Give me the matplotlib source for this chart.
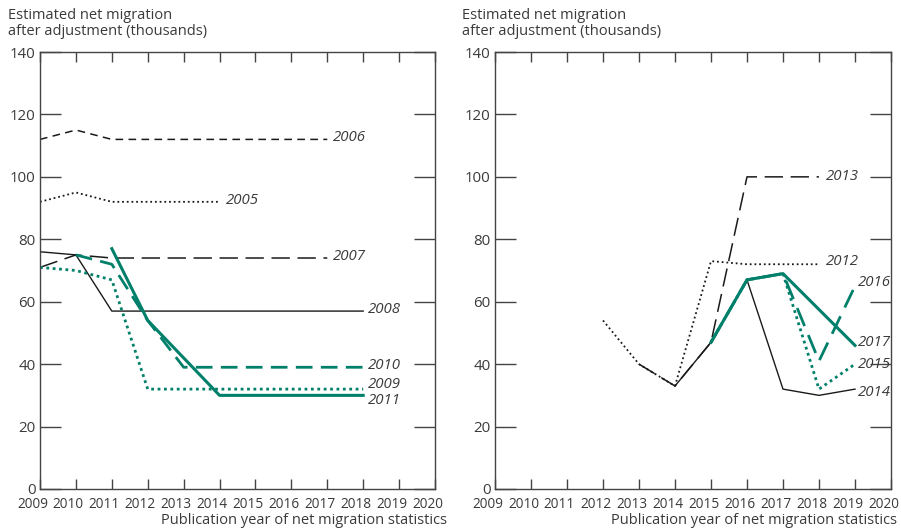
import matplotlib.pyplot as plt
import matplotlib.transforms as mtransforms

plt.rcParams['font.family'] = ['Open Sans', 'DejaVu Sans']

GREEN = '#00806a'
BLACK = '#1a1a1a'
TXT = '#3a3a3a'

years = list(range(2009, 2021))

# left panel: forecasts made in 2005-2011
x2005 = [2009, 2010, 2011, 2012, 2013, 2014]
y2005 = [92, 95, 92, 92, 92, 92]
x2006 = [2009, 2010, 2011, 2012, 2013, 2014, 2015, 2016, 2017]
y2006 = [112, 115, 112, 112, 112, 112, 112, 112, 112]
x2007 = [2009, 2010, 2011, 2012, 2013, 2014, 2015, 2016, 2017]
y2007 = [71, 75, 74, 74, 74, 74, 74, 74, 74]
x2008 = [2009, 2010, 2011, 2012, 2013, 2014, 2015, 2016, 2017, 2018]
y2008 = [76, 75, 57, 57, 57, 57, 57, 57, 57, 57]
x2009 = [2009, 2010, 2011, 2012, 2013, 2014, 2015, 2016, 2017, 2018]
y2009 = [71, 70, 67, 32, 32, 32, 32, 32, 32, 32]
x2010 = [2010, 2011, 2012, 2013, 2014, 2015, 2016, 2017, 2018]
y2010 = [75, 72, 54, 39, 39, 39, 39, 39, 39]
x2011 = [2011, 2012, 2014, 2015, 2016, 2017, 2018]
y2011 = [77, 54, 30, 30, 30, 30, 30]

# right panel: forecasts made in 2012-2017
x2012 = [2012, 2013, 2014, 2015, 2016, 2017, 2018]
y2012 = [54, 40, 33, 73, 72, 72, 72]
x2013 = [2013, 2014, 2015, 2016, 2017, 2018]
y2013 = [40, 33, 47, 100, 100, 100]
x2014 = [2014, 2015, 2016, 2017, 2018, 2019]
y2014 = [33, 47, 67, 32, 30, 32]
x2015 = [2015, 2016, 2017, 2018, 2019]
y2015 = [47, 67, 69, 32, 40]
x2016 = [2015, 2016, 2017, 2018, 2019]
y2016 = [47, 67, 69, 41, 65]
x2017 = [2015, 2016, 2017, 2019]
y2017 = [47, 67, 69, 46]

W, H = 901, 530
fig = plt.figure(figsize=(W / 100, H / 100), dpi=100)
axL = fig.add_axes([40 / W, 41 / H, 395 / W, 437 / H])
axR = fig.add_axes([495 / W, 41 / H, 396 / W, 437 / H])

# year labels sit a little left of their ticks in the original
shift = mtransforms.ScaledTranslation(-7.5 / 100, 0, fig.dpi_scale_trans)

for ax, lx, rx in ((axL, -0.081, 1.030), (axR, -0.083, 1.015)):
    ax.set_xlim(2009, 2020)
    ax.set_ylim(0, 140)
    ax.set_xticks(years)
    ax.set_yticks(range(0, 141, 20))
    ax.tick_params(axis='x', direction='in', length=7, width=1, color='#444444',
                   top=True, labelsize=9.8, labelcolor=TXT, pad=6)
    ax.tick_params(axis='y', direction='in', length=15, width=1, color='#444444',
                   right=True, labelsize=10.8, labelcolor=TXT, pad=3)
    for t in ax.get_xticklabels():
        t.set_transform(t.get_transform() + shift)
    for s in ax.spines.values():
        s.set_color('#444444')
        s.set_linewidth(1)
    ax.text(lx, 1.030, 'Estimated net migration\nafter adjustment (thousands)',
            transform=ax.transAxes, fontsize=10.5, color=TXT, va='bottom', ha='left',
            linespacing=1.05)
    ax.text(rx, -0.055, 'Publication year of net migration statistics',
            transform=ax.transAxes, fontsize=10.5, color=TXT, va='top', ha='right')

lab = dict(fontsize=10.8, style='italic', color=TXT, va='center', ha='left')

axL.plot(x2005, y2005, color=BLACK, lw=1.3, ls=(0, (1, 1.6)))
axL.plot(x2006, y2006, color=BLACK, lw=1.1, ls=(0, (5, 3.5)))
axL.plot(x2007, y2007, color=BLACK, lw=1.1, ls=(0, (12, 5)))
axL.plot(x2008, y2008, color=BLACK, lw=1.0)
axL.plot(x2009, y2009, color=GREEN, lw=2.0, ls=(0, (1, 1.3)))
axL.plot(x2010, y2010, color=GREEN, lw=2.0, ls=(0, (6, 3)))
axL.plot(x2011, y2011, color=GREEN, lw=2.2)

axL.text(2017.17, 112.5, '2006', **lab)
axL.text(2014.18, 92.5, '2005', **lab)
axL.text(2017.17, 74.5, '2007', **lab)
axL.text(2018.14, 57.5, '2008', **lab)
axL.text(2018.14, 39.5, '2010', **lab)
axL.text(2018.14, 33.5, '2009', **lab)
axL.text(2018.14, 28.5, '2011', **lab)

axR.plot(x2012, y2012, color=BLACK, lw=1.3, ls=(0, (1, 1.6)))
axR.plot(x2013, y2013, color=BLACK, lw=1.1, ls=(0, (12, 5)))
axR.plot(x2014, y2014, color=BLACK, lw=1.0)
axR.plot(x2015, y2015, color=GREEN, lw=2.0, ls=(0, (1, 1.3)))
axR.plot(x2016, y2016, color=GREEN, lw=2.0, ls=(0, (7, 3.5)))
axR.plot(x2017, y2017, color=GREEN, lw=2.2)

axR.text(2018.2, 100, '2013', **lab)
axR.text(2018.2, 73, '2012', **lab)
axR.text(2019.08, 66.3, '2016', **lab)
axR.text(2019.08, 47, '2017', **lab)
axR.text(2019.08, 40, '2015', **lab)
axR.text(2019.08, 31, '2014', **lab)

fig.savefig('out.png', dpi=100)
